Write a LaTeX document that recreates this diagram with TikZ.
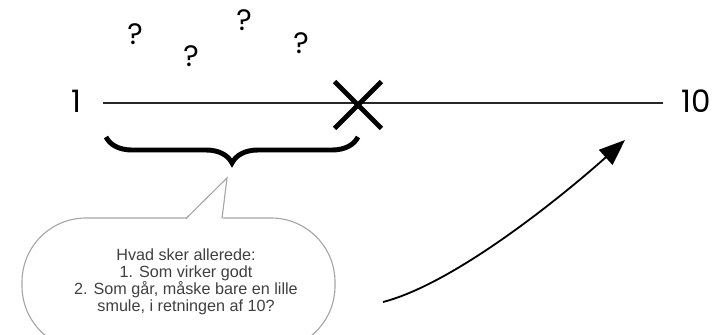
\documentclass[tikz,border=0pt]{standalone}
\usepackage{fontspec}
\setmainfont{Liberation Sans}
\newfontfamily\handfont{Poppins}
\usetikzlibrary{arrows.meta, decorations.pathreplacing, shapes.misc}

\begin{document}
\begin{tikzpicture}[x=0.025cm, y=-0.025cm, >=Triangle]
  \tikzset{
    numlabel/.style={font=\handfont\fontsize{22}{22}\selectfont},
    qmark/.style={font=\handfont\fontsize{21}{21}\selectfont},
    bubble/.style={draw=gray!70, line width=0.8pt, fill=white},
  }
  \path[use as bounding box, clip] (0,0) rectangle (717,335);

  % Scale ends
  \node[numlabel] (one) at (76,101) {1};
  \node[numlabel] (ten) at (696,101) {10};
  \coordinate (lstart) at (103,103);
  \coordinate (lend) at (663,103);
  \draw[line width=1pt, black!85] (lstart) -- (lend);

  % Where we are now
  \node[cross out, draw, line width=3.5pt, inner sep=0pt,
        minimum size=1.05cm] (cross) at (358,105) {};

  % Question marks
  \node[qmark] (q1) at (135,34) {?};
  \node[qmark] (q2) at (191,56) {?};
  \node[qmark] (q3) at (244,20) {?};
  \node[qmark] (q4) at (301,43) {?};

  % Brace under the first part
  \draw[decorate, decoration={brace, mirror, amplitude=0.65cm},
        line width=3.5pt] (106,137) -- (358,137);

  % Speech bubble
  \draw[bubble, rounded corners=1.6cm] (22,218) rectangle (335,350);
  \fill[white] (186,220) -- (227,178) -- (223,220) -- cycle;
  \draw[bubble, fill=none] (186,218.5) -- (227,178) -- (222,218.5);
  \node[font=\fontsize{11.5}{12.2}\selectfont, text=black!75, align=center]
    (note) at (186,282) {Hvad sker allerede:\\1. Som virker godt\\
    2. Som går, måske bare en lille\\smule, i retningen af 10?};

  % Arrow towards 10
  \coordinate (astart) at (383,302);
  \coordinate (aend) at (625,140);
  \draw[-{Triangle[length=0.65cm, width=0.5cm]}, line width=1.3pt]
    (astart) .. controls (460,282) and (575,185) .. (aend);
\end{tikzpicture}
\end{document}
